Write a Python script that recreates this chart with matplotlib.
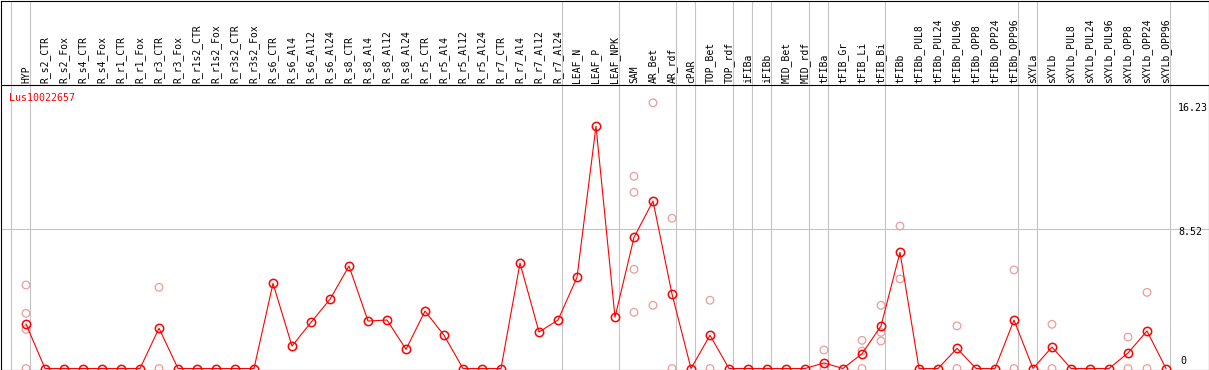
import matplotlib
matplotlib.use('Agg')
import matplotlib.pyplot as plt

# sample names along the top
samples = ['HYP', 'R_s2_CTR', 'R_s2_Fox', 'R_s4_CTR', 'R_s4_Fox', 'R_r1_CTR', 'R_r1_Fox',
           'R_r3_CTR', 'R_r3_Fox', 'R_r1s2_CTR', 'R_r1s2_Fox', 'R_r3s2_CTR', 'R_r3s2_Fox',
           'R_s6_CTR', 'R_s6_Al4', 'R_s6_Al12', 'R_s6_Al24', 'R_s8_CTR', 'R_s8_Al4',
           'R_s8_Al12', 'R_s8_Al24', 'R_r5_CTR', 'R_r5_Al4', 'R_r5_Al12', 'R_r5_Al24',
           'R_r7_CTR', 'R_r7_Al4', 'R_r7_Al12', 'R_r7_Al24', 'LEAF_N', 'LEAF_P', 'LEAF_NPK',
           'SAM', 'AR_Bet', 'AR_rdf', 'cPAR', 'TOP_Bet', 'TOP_rdf', 'iFIBa', 'iFIBb',
           'MID_Bet', 'MID_rdf', 'tFIBa', 'tFIB_Gr', 'tFIB_Li', 'tFIB_Bi', 'tFIBb',
           'tFIBb_PUL8', 'tFIBb_PUL24', 'tFIBb_PUL96', 'tFIBb_OPP8', 'tFIBb_OPP24',
           'tFIBb_OPP96', 'sXYLa', 'sXYLb', 'sXYLb_PUL8', 'sXYLb_PUL24', 'sXYLb_PUL96',
           'sXYLb_OPP8', 'sXYLb_OPP24', 'sXYLb_OPP96']

# mean expression per sample
means = [2.72, 0, 0, 0, 0, 0, 0, 2.46, 0, 0, 0, 0, 0,
         5.20, 1.37, 2.82, 4.23, 6.26, 2.90, 2.96, 1.17, 3.51, 2.03, 0, 0,
         0, 6.44, 2.23, 2.96, 5.57, 14.81, 3.13,
         8.01, 10.23, 4.55, 0, 2.03, 0, 0, 0,
         0, 0, 0.34, 0, 0.90, 2.60, 7.10,
         0, 0, 1.23, 0, 0, 2.96, 0, 1.31, 0, 0, 0, 0.95, 2.29, 0]

# individual replicates (sample name, value)
rep_samples = ['HYP', 'HYP', 'HYP', 'HYP', 'R_r3_CTR', 'R_r3_CTR',
               'SAM', 'SAM', 'SAM', 'SAM', 'AR_Bet', 'AR_Bet', 'AR_rdf', 'AR_rdf',
               'TOP_Bet', 'TOP_Bet', 'tFIBa', 'tFIBa', 'tFIB_Li', 'tFIB_Li', 'tFIB_Li',
               'tFIB_Bi', 'tFIB_Bi', 'tFIB_Bi', 'tFIBb', 'tFIBb', 'tFIBb_PUL96', 'tFIBb_PUL96',
               'tFIBb_OPP96', 'tFIBb_OPP96', 'sXYLb', 'sXYLb', 'sXYLb_OPP8', 'sXYLb_OPP8',
               'sXYLb_OPP24', 'sXYLb_OPP24']
rep_values = [5.10, 3.37, 2.39, 0, 4.96, 0,
              11.74, 10.76, 6.06, 3.43, 16.23, 3.86, 9.18, 0,
              4.17, 0, 1.13, 0, 1.72, 1.07, 0,
              3.86, 2.21, 1.68, 8.70, 5.47, 2.60, 0,
              6.02, 0, 2.70, 0, 1.92, 0,
              4.65, 0]

# last sample of each tissue group (separator lines drawn after these)
group_ends = ['HYP', 'R_r7_Al24', 'LEAF_NPK', 'AR_rdf', 'cPAR', 'TOP_rdf', 'iFIBa',
              'iFIBb', 'MID_rdf', 'tFIBa', 'tFIB_Bi', 'tFIBb_OPP96', 'sXYLa', 'sXYLb_OPP96']

gene = 'Lus10022657'
y_max = 16.23
y_mid = 8.52

W, H = 1209, 370
fig = plt.figure(figsize=(W / 100, H / 100), dpi=100)
ax = fig.add_axes([0.5 / W, 0.5 / H, (W - 1) / W, (H - 1) / H])

# pixel geometry of the original: sample i at x = 26 + 19 i, 0 at y=368.5, 16.37 px per unit
ax.set_xlim((0.5 - 26) / 19, (1208.5 - 26) / 19)
ax.set_ylim((368.5 - 369.5) / 16.37, 368.0 / 16.37)
header_y = (368.5 - 85) / 16.37

for s in ax.spines.values():
    s.set_color('black')
    s.set_linewidth(0.8)
ax.set_xticks([])
ax.set_yticks([])

grey = '#c4c4c4'
ax.axhline(y_mid, color=grey, lw=0.8, zorder=1)
ax.axvline(-1 + 0.226, color=grey, lw=0.8, zorder=1)
for g in group_ends:
    ax.axvline(samples.index(g) + 0.226, color=grey, lw=0.8, zorder=1)
ax.axhline(header_y, color='black', lw=0.8, zorder=2)

mono = 'DejaVu Sans Mono'
for i, s in enumerate(samples):
    ax.annotate(s, (i, header_y), xytext=(0, 2), textcoords='offset pixels',
                rotation=90, ha='center', va='bottom', fontsize=7, family=mono)

x = list(range(len(samples)))
rep_x = [samples.index(s) for s in rep_samples]
ax.scatter(rep_x, rep_values, s=30, facecolors='none', edgecolors='#eb9c9c',
           linewidths=0.9, zorder=3)
ax.plot(x, means, color='red', lw=0.8, marker='o', markersize=6,
        markerfacecolor='none', markeredgecolor='red', markeredgewidth=1.1, zorder=4)

ax.text((9 - 26) / 19, (368.5 - 97.7) / 16.37, gene, color='red', fontsize=7.2,
        family=mono, ha='left', va='center')

lab_x = (1178 - 26) / 19
ax.annotate(f'{y_max:.2f}', (lab_x, y_max), xytext=(0, -5), textcoords='offset pixels',
            ha='left', va='center', fontsize=7.2, family=mono)
ax.annotate(f'{y_mid:.2f}', (lab_x, y_mid), xytext=(0, -3), textcoords='offset pixels',
            ha='left', va='center', fontsize=7.2, family=mono)
ax.annotate('0', (lab_x + 0.15, 0), xytext=(0, 7), textcoords='offset pixels',
            ha='left', va='center', fontsize=7.2, family=mono)

fig.savefig('out.png', dpi=100)
